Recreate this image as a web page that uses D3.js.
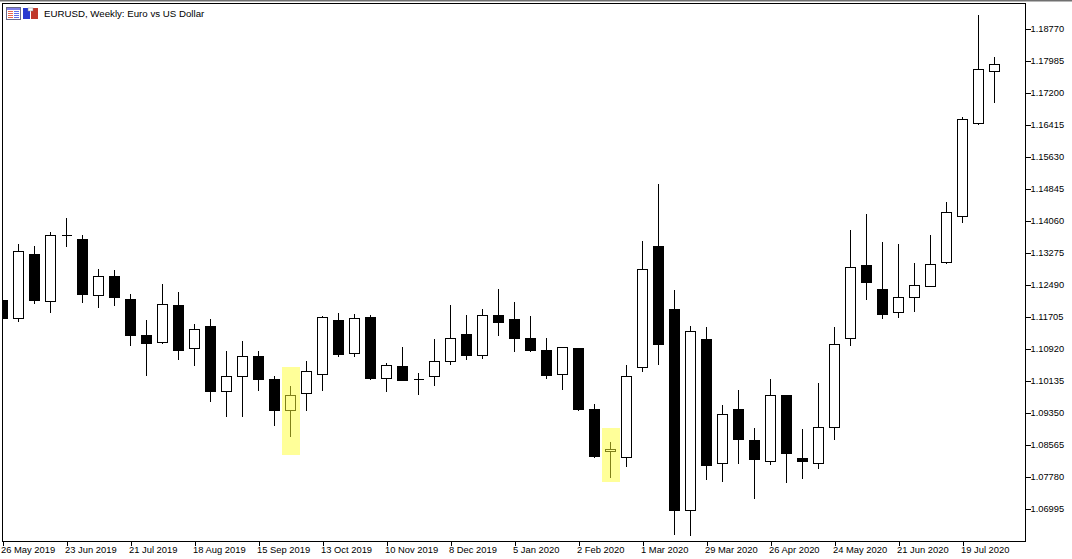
<!DOCTYPE html>
<html>
<head>
<meta charset="utf-8">
<script src="https://cdn.jsdelivr.net/npm/d3@7"></script>
<style>
    html, body { margin: 0; padding: 0; background: #fff; overflow: hidden; }
    text { font-family: "Liberation Sans", sans-serif; font-size: 9.5px; fill: #000; }
</style>
</head>
<body>
<div id="content"></div>
<script>
const opens = [1.12122,1.11649,1.13250,1.12090,1.13709,1.13618,1.12237,1.12711,1.12147,1.11263,1.11060,1.11999,1.10937,1.11484,1.09882,1.10250,1.10748,1.10184,1.09392,1.09809,1.10299,1.11631,1.10790,1.11705,1.10201,1.10503,1.10177,1.10226,1.10594,1.11288,1.10756,1.11754,1.11656,1.11190,1.10895,1.10290,1.10945,1.09448,1.08401,1.08239,1.10447,1.13447,1.11901,1.06939,1.11165,1.08092,1.09448,1.08688,1.08165,1.09792,1.08246,1.08092,1.08999,1.11158,1.12981,1.12392,1.11820,1.12164,1.12434,1.13037,1.14175,1.16447,1.17732]
const closes = [1.11663,1.13317,1.12105,1.13709,1.13709,1.12252,1.12703,1.12178,1.11246,1.11050,1.12017,1.10878,1.11403,1.09873,1.10250,1.10741,1.10167,1.09407,1.09784,1.10373,1.11698,1.10780,1.11673,1.10191,1.10520,1.10142,1.10177,1.10618,1.11183,1.10756,1.11747,1.11565,1.11173,1.10878,1.10265,1.10962,1.09431,1.08278,1.08467,1.10250,1.12875,1.11026,1.06953,1.11354,1.08057,1.09318,1.08695,1.08204,1.09784,1.08352,1.08155,1.08999,1.11035,1.12924,1.12546,1.11761,1.12188,1.12483,1.12998,1.14273,1.16555,1.17781,1.17904]
const highs = [1.12196,1.13496,1.13447,1.13790,1.14134,1.13717,1.12882,1.12858,1.12269,1.11631,1.12515,1.12318,1.11533,1.11656,1.10871,1.11116,1.10871,1.10258,1.10012,1.10626,1.11730,1.11803,1.11779,1.11754,1.10569,1.10969,1.10324,1.11158,1.11999,1.11754,1.11901,1.12392,1.12073,1.11730,1.11190,1.10962,1.10945,1.09571,1.08639,1.10528,1.13569,1.14968,1.12367,1.11484,1.11460,1.09546,1.09914,1.08982,1.10184,1.09792,1.08958,1.10086,1.11460,1.13839,1.14232,1.13545,1.13496,1.13030,1.13717,1.14526,1.16604,1.19113,1.18083]
const lows = [1.11607,1.11590,1.12031,1.11810,1.13430,1.12056,1.11933,1.11982,1.11001,1.10265,1.11050,1.10658,1.10510,1.09627,1.09259,1.09259,1.09897,1.09038,1.08769,1.09407,1.09897,1.10731,1.10731,1.10167,1.09873,1.10142,1.09799,1.10020,1.10535,1.10658,1.10682,1.11246,1.10854,1.10854,1.10191,1.09922,1.09407,1.08253,1.07763,1.08033,1.10363,1.10535,1.06365,1.06340,1.07714,1.07665,1.08106,1.07248,1.08082,1.07640,1.07738,1.07984,1.08695,1.11001,1.12129,1.11663,1.11688,1.11835,1.12434,1.13013,1.14018,1.16422,1.16962]

const dateLabels = ["26 May 2019","23 Jun 2019","21 Jul 2019","18 Aug 2019","15 Sep 2019","13 Oct 2019","10 Nov 2019","8 Dec 2019","5 Jan 2020","2 Feb 2020","1 Mar 2020","29 Mar 2020","26 Apr 2020","24 May 2020","21 Jun 2020","19 Jul 2020"]
const priceTicks = [1.18770,1.17985,1.17200,1.16415,1.15630,1.14845,1.14060,1.13275,1.12490,1.11705,1.10920,1.10135,1.09350,1.08565,1.07780,1.06995]

// yellow marker boxes: candle index, and the price range they cover
const markIndex = [18, 38]
const markTop = [1.10471, 1.08975]
const markBottom = [1.08327, 1.07665]

const title = "EURUSD, Weekly:  Euro vs US Dollar"

const outerWidth = 1072
const outerHeight = 559
const frame = {left: 2.5, top: 3.5, right: 1025.5, bottom: 541.5}
const halfBody = 5

const svg = d3.select("#content").append("svg")
    .attr("width", outerWidth)
    .attr("height", outerHeight)
    .style("display", "block")

// make scales
const xScale = d3.scaleLinear()
    .domain([0, opens.length - 1])
    .range([2.5, 994.5])
const yScale = d3.scaleLinear()
    .domain([1.06995, 1.18770])
    .range([509, 29])

// body edges land on whole pixels, the lower edge one row up
const snapTop = v => Math.round(yScale(v)) + 0.5
const snapBottom = v => Math.round(yScale(v) - 0.8) + 0.5

svg.append("defs").append("clipPath")
    .attr("id", "plot")
  .append("rect")
    .attr("x", frame.left)
    .attr("y", frame.top)
    .attr("width", frame.right - frame.left)
    .attr("height", frame.bottom - frame.top)

// window edge above the chart
svg.append("rect")
    .attr("width", outerWidth)
    .attr("height", 1.5)
    .attr("fill", "#707070")

const plot = svg.append("g")
    .attr("clip-path", "url(#plot)")

// draw candles
const candle = plot.selectAll(".candle")
    .data(opens.map((d, i) => i))
    .enter().append("g")
    .attr("class", "candle")

candle.append("line")
    .attr("x1", i => xScale(i))
    .attr("x2", i => xScale(i))
    .attr("y1", i => Math.round(yScale(highs[i])))
    .attr("y2", i => Math.round(yScale(lows[i])))
    .attr("stroke", "#000")
    .attr("shape-rendering", "crispEdges")

candle.append("path")
    .attr("d", i => {
        const x = xScale(i)
        const top = Math.max(opens[i], closes[i])
        const bottom = Math.min(opens[i], closes[i])
        const y0 = snapTop(top)
        const y1 = Math.max(y0, snapBottom(bottom))
        return `M${x - halfBody},${y0}H${x + halfBody}V${y1}H${x - halfBody}Z`
    })
    .attr("fill", i => closes[i] < opens[i] ? "#000" : "#fff")
    .attr("stroke", "#000")
    .attr("shape-rendering", "crispEdges")

// yellow markers sit over the candles
plot.selectAll(".mark")
    .data(markIndex)
    .enter().append("rect")
    .attr("class", "mark")
    .attr("x", d => Math.round(xScale(d - 0.53)))
    .attr("width", d => Math.round(xScale(d + 0.6)) - Math.round(xScale(d - 0.53)))
    .attr("y", (d, i) => Math.round(yScale(markTop[i])))
    .attr("height", (d, i) => Math.round(yScale(markBottom[i])) - Math.round(yScale(markTop[i])))
    .attr("fill", "#ffff33")
    .attr("fill-opacity", 0.5)

// frame
svg.append("rect")
    .attr("x", frame.left)
    .attr("y", frame.top)
    .attr("width", frame.right - frame.left)
    .attr("height", frame.bottom - frame.top)
    .attr("fill", "none")
    .attr("stroke", "#000")
    .attr("shape-rendering", "crispEdges")

// draw axes
const xAxis = d3.axisBottom(xScale)
    .tickValues(dateLabels.map((d, i) => i * 4))
    .tickFormat((d, i) => dateLabels[i])
    .tickSize(4)
    .tickSizeOuter(0)
const xAxisG = svg.append("g")
    .attr("transform", `translate(0, ${frame.bottom})`)
    .call(xAxis)
xAxisG.select(".domain").remove()
xAxisG.selectAll("text")
    .attr("y", 5)
    .attr("dy", "0.71em")
    .style("text-anchor", "start")
    .style("font-size", "9.4px")
    .attr("x", -2)
xAxisG.selectAll("line").attr("shape-rendering", "crispEdges")

const yAxis = d3.axisRight(yScale)
    .tickValues(priceTicks)
    .tickFormat(d3.format(".5f"))
    .tickSize(5)
    .tickPadding(0)
    .tickSizeOuter(0)
const yAxisG = svg.append("g")
    .attr("transform", `translate(${frame.right}, 0)`)
    .call(yAxis)
yAxisG.select(".domain").remove()
yAxisG.selectAll("line").attr("shape-rendering", "crispEdges")
yAxisG.selectAll("text")
    .attr("x", 5)
    .attr("dy", "0.27em")
    .style("font-size", "9.3px")

// header text and the two little terminal icons
svg.append("text")
    .attr("x", 44)
    .attr("y", 17)
    .style("font-size", "9.7px")
    .text(title)

const icon1 = svg.append("g").attr("transform", "translate(6, 7)")
icon1.append("rect").attr("x", 0.5).attr("y", 0.5).attr("width", 14).attr("height", 12).attr("fill", "#fff").attr("stroke", "#6a6a8a")
icon1.append("rect").attr("x", 1).attr("y", 1).attr("width", 13).attr("height", 2).attr("fill", "#7f7fe8")
icon1.selectAll(".row")
    .data([4, 6, 8, 10])
    .enter().append("g")
    .each(function(d) {
        d3.select(this).append("rect").attr("x", 2).attr("y", d).attr("width", 5).attr("height", 1).attr("fill", "#e86850")
        d3.select(this).append("rect").attr("x", 8).attr("y", d).attr("width", 5).attr("height", 1).attr("fill", "#6070e8")
    })

const icon2 = svg.append("g").attr("transform", "translate(23, 8)")
icon2.append("rect").attr("x", 0).attr("y", 0).attr("width", 7).attr("height", 11).attr("fill", "#2a3ad0")
icon2.append("rect").attr("x", 8).attr("y", 0).attr("width", 7).attr("height", 11).attr("fill", "#c0392b")
icon2.append("rect").attr("x", 5).attr("y", 0).attr("width", 5).attr("height", 3).attr("fill", "#fff").attr("stroke", "#888").attr("stroke-width", 0.5)
</script>
</body>
</html>
